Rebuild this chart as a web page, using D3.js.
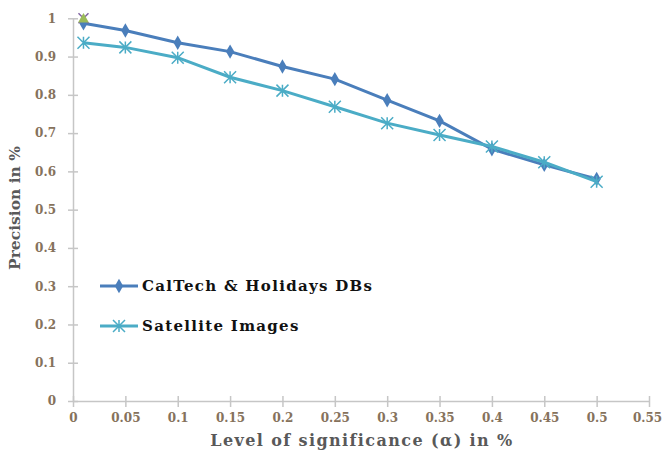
<!DOCTYPE html>
<html><head><meta charset="utf-8">
<script src="https://cdn.jsdelivr.net/npm/d3@7"></script>
<style>body{margin:0;background:#fff}svg{display:block}</style>
</head><body>
<svg id="c" width="662" height="450"></svg>
<script>
const xValues = [0.01, 0.05, 0.1, 0.15, 0.2, 0.25, 0.3, 0.35, 0.4, 0.45, 0.5];
const caltech = [0.987, 0.968, 0.936, 0.913, 0.874, 0.841, 0.786, 0.732, 0.658, 0.617, 0.58];
const satellite = [0.936, 0.924, 0.897, 0.846, 0.811, 0.769, 0.726, 0.695, 0.665, 0.624, 0.573];
const extraPoint = [0.01, 1.0];
const xTicks = [0, 0.05, 0.1, 0.15, 0.2, 0.25, 0.3, 0.35, 0.4, 0.45, 0.5, 0.55];
const yTicks = [0, 0.1, 0.2, 0.3, 0.4, 0.5, 0.6, 0.7, 0.8, 0.9, 1];
const seriesNames = ["CalTech & Holidays DBs", "Satellite Images"];

const svg = d3.select("#c");
const x = d3.scaleLinear().domain([0, 0.55]).range([73, 649]);
const y = d3.scaleLinear().domain([0, 1]).range([401, 18.3]);
const axisCol = "#c6c6c6", tickCol = "#86725c", serif = "'DejaVu Serif', serif";

// axes
const xa = svg.append("g").attr("transform", "translate(0,401)")
  .call(d3.axisBottom(x).tickValues(xTicks).tickFormat(d => String(d)).tickSizeInner(6).tickSizeOuter(0).tickPadding(6));
xa.selectAll(".tick line").attr("y1", -5);
const ya = svg.append("g").attr("transform", "translate(73,0)")
  .call(d3.axisLeft(y).tickValues(yTicks).tickFormat(d => String(d)).tickSizeInner(5).tickSizeOuter(0).tickPadding(12));
ya.selectAll(".tick line").attr("x1", 5);
[xa, ya].forEach(a => {
  a.select(".domain").attr("stroke", axisCol).attr("stroke-width", 1.5);
  a.selectAll(".tick line").attr("stroke", axisCol).attr("stroke-width", 1.5);
  a.selectAll(".tick text").attr("fill", tickCol).attr("font-family", serif)
    .attr("font-weight", "bold").attr("font-size", 12);
});
xa.selectAll(".tick text").filter(d => d === 0.55).attr("dx", -2);

// titles
svg.append("text").attr("x", 362).attr("y", 446).attr("text-anchor", "middle")
  .attr("font-family", serif).attr("font-weight", "bold").attr("font-size", 16)
  .attr("letter-spacing", 1.4).attr("fill", "#595959").text("Level of significance (α) in %");
svg.append("text").attr("transform", "translate(20,208) rotate(-90)").attr("text-anchor", "middle")
  .attr("font-family", serif).attr("font-weight", "bold").attr("font-size", 15.5)
  .attr("fill", "#595959").text("Precision in %");

const colors = ["#4a7ebb", "#4bacc6"];
const line = d3.line().x(d => x(d[0])).y(d => y(d[1]));
const data = [caltech, satellite].map(s => xValues.map((v, i) => [v, s[i]]));

function diamond(g, cx, cy, c) {
  g.append("path").attr("d", d3.symbol(d3.symbolDiamond, 60)()).attr("transform", `translate(${cx},${cy})`).attr("fill", c);
}
function star(g, cx, cy, c) {
  const r = 6;
  const p = `M${cx - r},${cy - r}L${cx + r},${cy + r}M${cx - r},${cy + r}L${cx + r},${cy - r}M${cx},${cy - r}L${cx},${cy + r}`;
  g.append("path").attr("d", p).attr("stroke", c).attr("stroke-width", 1.5).attr("fill", "none");
}

data.forEach((d, k) => {
  const g = svg.append("g");
  g.append("path").datum(d).attr("d", line).attr("fill", "none").attr("stroke", colors[k]).attr("stroke-width", 3);
  d.forEach(p => (k === 0 ? diamond : star)(g, x(p[0]), y(p[1]), colors[k]));
});

// extra overlapping markers at top-left
const ex = x(extraPoint[0]), ey = y(extraPoint[1]);
svg.append("path").attr("d", `M${ex - 5},${ey - 5}L${ex + 5},${ey + 5}M${ex - 5},${ey + 5}L${ex + 5},${ey - 5}`)
  .attr("stroke", "#8064a2").attr("stroke-width", 1.5);
svg.append("path").attr("d", d3.symbol(d3.symbolTriangle, 50)()).attr("transform", `translate(${ex},${ey + 1})`).attr("fill", "#9bbb59");

// legend
seriesNames.forEach((n, k) => {
  const ly = 286 + k * 40;
  const g = svg.append("g");
  g.append("line").attr("x1", 100).attr("x2", 138).attr("y1", ly).attr("y2", ly).attr("stroke", colors[k]).attr("stroke-width", 3);
  (k === 0 ? diamond : star)(g, 119, ly, colors[k]);
  g.append("text").attr("x", 142).attr("y", ly + 5).attr("font-family", serif).attr("font-weight", "bold")
    .attr("font-size", 15).attr("letter-spacing", 1.3).attr("fill", "#111").text(n);
});
</script>
</body></html>
